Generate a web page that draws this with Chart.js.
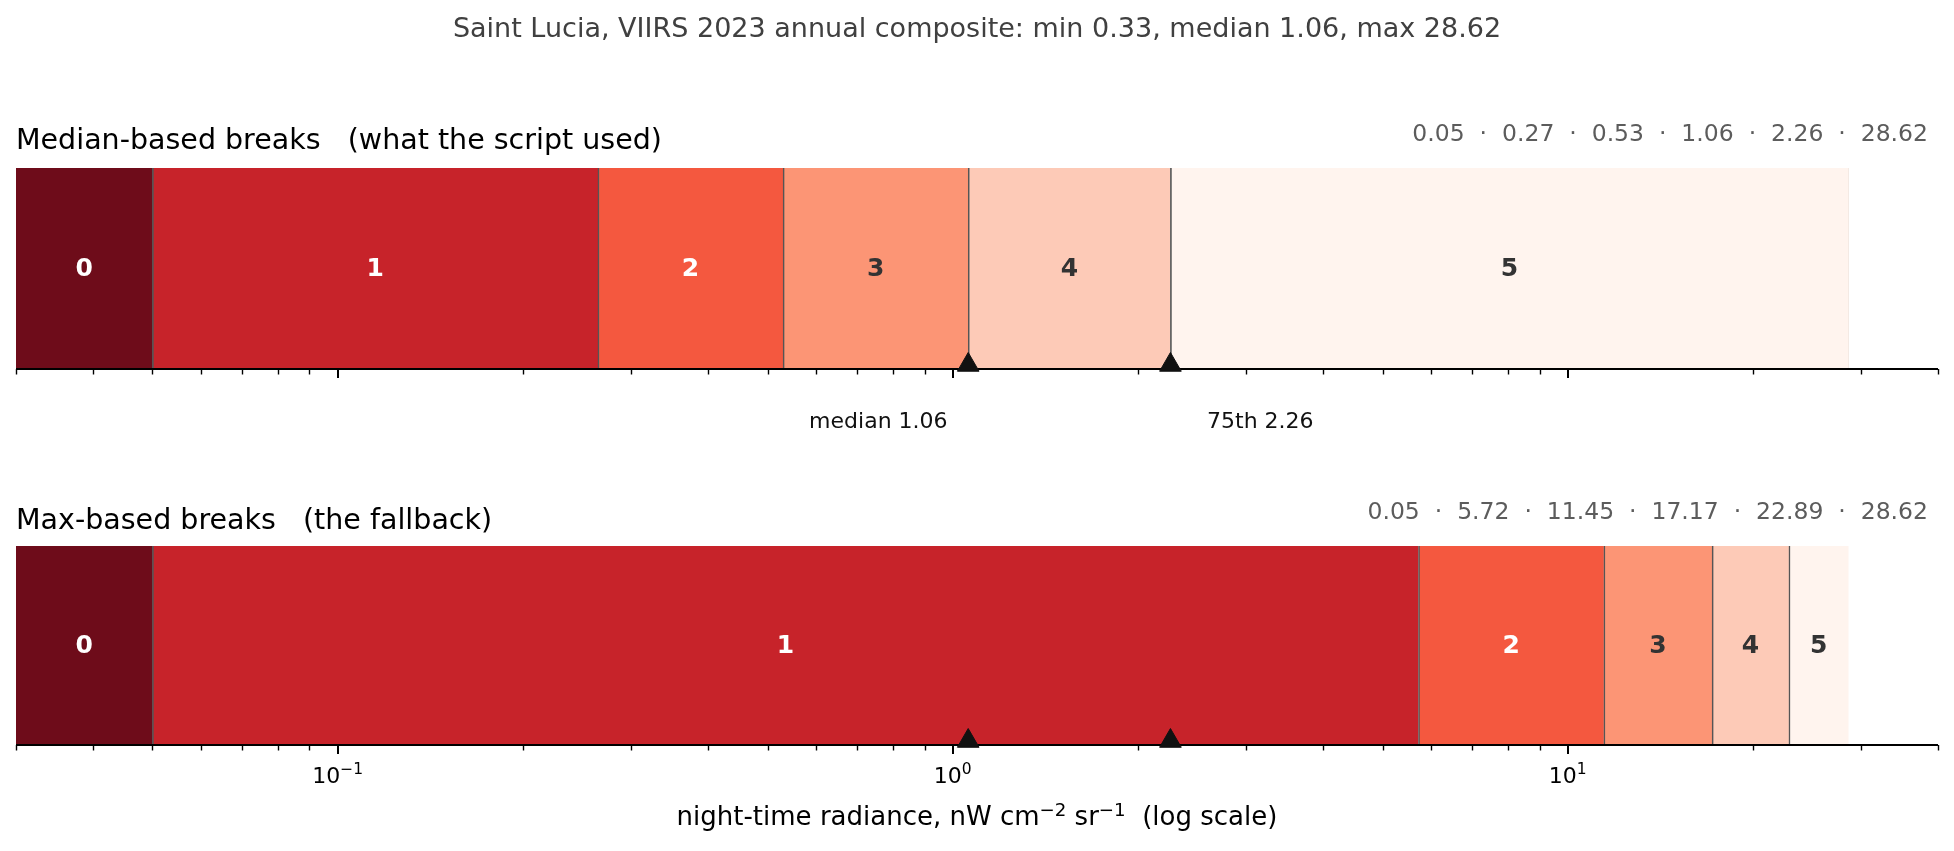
<!DOCTYPE html>
<html>
<head>
<meta charset="utf-8">
<title>Saint Lucia VIIRS breaks</title>
<script src="https://cdn.jsdelivr.net/npm/chart.js@4.4.1/dist/chart.umd.min.js"></script>
<style>
  html, body { margin: 0; padding: 0; background: #fff; }
  #wrap { position: relative; width: 1954px; height: 851px; overflow: hidden;
          font-family: "DejaVu Sans", sans-serif; }
  #wrap canvas { position: absolute; left: 0; top: 0; }
  .txt { position: absolute; white-space: pre; line-height: 1; }
  #suptitle { left: 0; width: 1954px; top: 14px; text-align: center; font-size: 27px; color: #404040; }
  .ptitle { left: 16px; font-size: 28.5px; color: #000; }
  .breaks { right: 26px; font-size: 23.5px; color: #5c5c5c; }
  #xlabel { left: 0; width: 1954px; top: 803px; text-align: center; font-size: 26px; color: #000; }
  #xlabel sup { font-size: 0.7em; vertical-align: baseline; position: relative; top: -0.5em; }
</style>
</head>
<body>
<div id="wrap">
  <canvas id="topChart" width="1954" height="851"></canvas>
  <canvas id="botChart" width="1954" height="851"></canvas>
  <div class="txt" id="suptitle"></div>
  <div class="txt ptitle" id="topTitle" style="top:126px"></div>
  <div class="txt breaks" id="topBreaks" style="top:122px"></div>
  <div class="txt ptitle" id="botTitle" style="top:506px"></div>
  <div class="txt breaks" id="botBreaks" style="top:500px"></div>
  <div class="txt" id="xlabel">night-time radiance, nW cm<sup>−2</sup> sr<sup>−1</sup>  (log scale)</div>
</div>
<script>
/* radiance class strips, two break schemes */
const AXIS_MIN = 0.03;
const AXIS_MAX = 40;
const CLASS_FLOOR = 0.03;   // class 0 runs off the left edge

const classLabels = ['0', '1', '2', '3', '4', '5'];
const classColors = ['#6e0c1a', '#c7232a', '#f4583f', '#fc9575', '#fdcab7', '#fff4ee'];
const classTextColors = ['#ffffff', '#ffffff', '#ffffff', '#333333', '#333333', '#333333'];

// upper edge of each class (0.265 prints as 0.27)
const medianBreaks = [0.05, 0.265, 0.53, 1.06, 2.26, 28.62];
const maxBreaks = [0.05, 5.72, 11.45, 17.17, 22.89, 28.62];

const markerValues = [1.06, 2.26];
const markerLabels = ['median 1.06', '75th 2.26'];

const majorTicks = [0.1, 1, 10];
const majorTickExp = ['−1', '0', '1'];
const minorTicks = [0.03, 0.04, 0.05, 0.06, 0.07, 0.08, 0.09,
                    0.2, 0.3, 0.4, 0.5, 0.6, 0.7, 0.8, 0.9,
                    2, 3, 4, 5, 6, 7, 8, 9, 20, 30, 40];

const suptitle = 'Saint Lucia, VIIRS 2023 annual composite: min 0.33, median 1.06, max 28.62';
const topTitle = 'Median-based breaks   (what the script used)';
const botTitle = 'Max-based breaks   (the fallback)';

const FONT = '"DejaVu Sans", sans-serif';

function $(id) { return document.getElementById(id); }

function breaksText(b) {
  return b.map(v => v.toFixed(2)).join('  ·  ');
}

const stripDecor = {
  id: 'stripDecor',
  afterDatasetDraw(chart, args, opts) {
    if (args.index !== 0) return;
    const { ctx, chartArea } = chart;
    const xs = chart.scales.x;

    // class numbers in the middle of each band
    ctx.save();
    ctx.font = 'bold 25px ' + FONT;
    ctx.textAlign = 'center';
    ctx.textBaseline = 'middle';
    args.meta.data.forEach((bar, i) => {
      ctx.fillStyle = classTextColors[i];
      ctx.fillText(classLabels[i], (bar.x + bar.base) / 2, bar.y + 1);
    });

    // bottom spine and tick marks
    const y0 = chartArea.bottom;
    ctx.strokeStyle = '#000';
    ctx.lineWidth = 2;
    ctx.beginPath();
    ctx.moveTo(chartArea.left, y0);
    ctx.lineTo(chartArea.right, y0);
    ctx.stroke();

    ctx.lineWidth = 1.4;
    minorTicks.forEach(v => {
      const px = Math.round(xs.getPixelForValue(v)) + 0.5;
      ctx.beginPath(); ctx.moveTo(px, y0); ctx.lineTo(px, y0 + 5.5); ctx.stroke();
    });
    ctx.lineWidth = 2;
    majorTicks.forEach(v => {
      const px = Math.round(xs.getPixelForValue(v));
      ctx.beginPath(); ctx.moveTo(px, y0); ctx.lineTo(px, y0 + 9); ctx.stroke();
    });

    if (opts.tickLabels) {
      ctx.fillStyle = '#000';
      ctx.textAlign = 'left';
      ctx.textBaseline = 'alphabetic';
      majorTicks.forEach((v, i) => {
        const px = xs.getPixelForValue(v);
        ctx.font = '22px ' + FONT;
        const wb = ctx.measureText('10').width;
        ctx.font = '15.5px ' + FONT;
        const ws = ctx.measureText(majorTickExp[i]).width;
        const x0 = px - (wb + ws) / 2;
        ctx.font = '22px ' + FONT;
        ctx.fillText('10', x0, y0 + 38);
        ctx.font = '15.5px ' + FONT;
        ctx.fillText(majorTickExp[i], x0 + wb, y0 + 29);
      });
    }

    if (opts.notes) {
      // median note sits left of its marker, 75th note to the right
      const shift = [1 / 1.4, 1.4];
      ctx.fillStyle = '#111';
      ctx.font = '22px ' + FONT;
      ctx.textAlign = 'center';
      ctx.textBaseline = 'middle';
      markerValues.forEach((v, i) => {
        ctx.fillText(markerLabels[i], xs.getPixelForValue(v * shift[i]), y0 + 53);
      });
    }
    ctx.restore();
  }
};

function makeChart(canvasId, breaks, top, bottom, opts) {
  const lows = [CLASS_FLOOR].concat(breaks.slice(0, -1));
  const bars = classLabels.map((c, i) => ({ x: [lows[i], breaks[i]], y: 0 }));
  // triangles sit on the bottom edge of the strip
  const marks = markerValues.map(v => ({ x: v, y: -0.48 }));

  return new Chart($(canvasId), {
    type: 'bar',
    data: {
      datasets: [
        {
          type: 'bar',
          data: bars,
          backgroundColor: classColors,
          borderColor: '#555555',
          borderWidth: c => c.dataIndex === 0 ? 0 : { left: 1.6, right: 0, top: 0, bottom: 0 },
          borderSkipped: false,
          barPercentage: 1,
          categoryPercentage: 1,
          xAxisID: 'x',
          yAxisID: 'y',
          order: 1
        },
        {
          type: 'scatter',
          indexAxis: 'x',
          data: marks,
          xAxisID: 'x',
          yAxisID: 'y',
          pointStyle: 'triangle',
          pointRadius: 12.5,
          pointHoverRadius: 12.5,
          backgroundColor: '#111111',
          borderColor: '#111111',
          borderWidth: 1,
          clip: false,
          order: 0
        }
      ]
    },
    options: {
      indexAxis: 'y',
      responsive: false,
      animation: false,
      events: [],
      layout: { padding: { left: 16, right: 16, top: top, bottom: 851 - bottom } },
      plugins: {
        legend: { display: false },
        title: { display: false },
        tooltip: { enabled: false },
        stripDecor: opts
      },
      scales: {
        x: { type: 'logarithmic', min: AXIS_MIN, max: AXIS_MAX, display: false },
        // no ticks on the strip axis, so the single bar spans its full height
        y: { type: 'linear', min: -0.5, max: 0.5, display: false,
             afterBuildTicks: s => { s.ticks = []; } }
      }
    },
    plugins: [stripDecor]
  });
}

function init() {
  Chart.defaults.font.family = FONT;
  $('suptitle').textContent = suptitle;
  $('topTitle').textContent = topTitle;
  $('botTitle').textContent = botTitle;
  $('topBreaks').textContent = breaksText(medianBreaks);
  $('botBreaks').textContent = breaksText(maxBreaks);

  makeChart('topChart', medianBreaks, 168, 369, { tickLabels: false, notes: true });
  makeChart('botChart', maxBreaks, 546, 745, { tickLabels: true, notes: false });
}

document.addEventListener('DOMContentLoaded', init);
</script>
</body>
</html>
